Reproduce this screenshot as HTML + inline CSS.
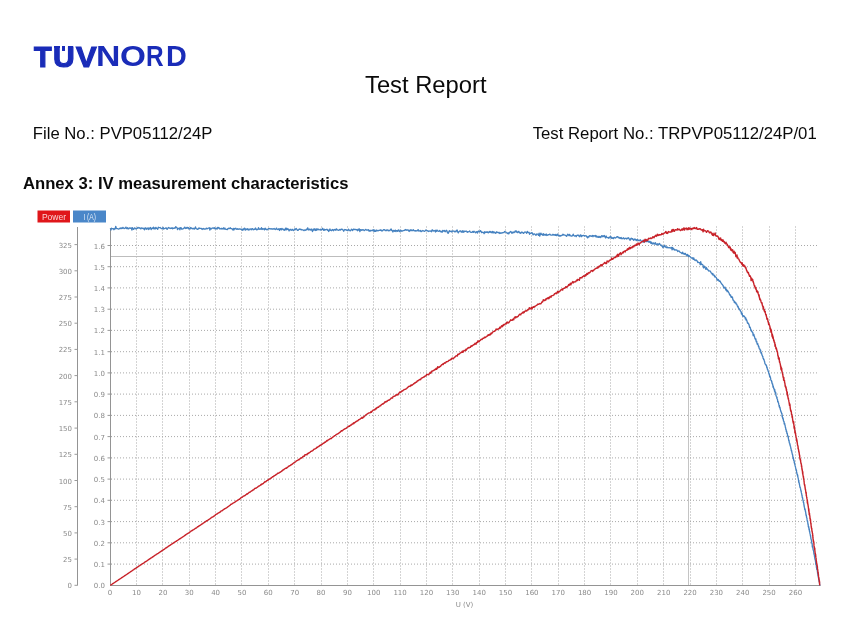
<!DOCTYPE html>
<html><head><meta charset="utf-8"><title>Test Report</title>
<style>
html,body{margin:0;padding:0;background:#fff;}
body{width:861px;height:624px;overflow:hidden;position:relative;}
svg{position:absolute;left:0;top:0;display:block;}
.t{font-family:"Liberation Sans",Arial,sans-serif;fill:#0a0a0a;}
.g{stroke:#a8a8a8;stroke-width:1;stroke-dasharray:1 2;}
.ax{stroke:#949494;stroke-width:1;}
.tk{stroke:#9a9a9a;stroke-width:1;}
.lb{font-family:"DejaVu Sans",Verdana,sans-serif;font-size:7px;fill:#8a8a8a;}
.lg{font-family:"Liberation Sans",Arial,sans-serif;font-size:8.5px;fill:#fff;fill-opacity:0.82;}
.logo{position:absolute;left:0;top:0;width:200px;height:80px;font-family:"Liberation Sans",Arial,sans-serif;font-weight:bold;color:#1a2cb8;}
.logo span{position:absolute;display:block;transform-origin:0 0;white-space:nowrap;}
.logo i{position:absolute;display:block;background:#1a2cb8;}
</style></head>
<body>
<svg width="861" height="624" viewBox="0 0 861 624">
<text x="365" y="93.2" class="t" font-size="24" textLength="121.5" lengthAdjust="spacingAndGlyphs">Test Report</text>
<text x="32.8" y="138.8" class="t" font-size="16" textLength="179.5" lengthAdjust="spacingAndGlyphs">File No.: PVP05112/24P</text>
<text x="532.7" y="138.9" class="t" font-size="16" textLength="284" lengthAdjust="spacingAndGlyphs">Test Report No.: TRPVP05112/24P/01</text>
<text x="23" y="188.7" class="t" font-size="16.2" font-weight="bold" textLength="325.5" lengthAdjust="spacingAndGlyphs">Annex 3: IV measurement characteristics</text>
<line x1="111" y1="564.1" x2="818.5" y2="564.1" class="g"/>
<line x1="107.5" y1="564.1" x2="111.5" y2="564.1" class="tk"/>
<line x1="111" y1="542.8" x2="818.5" y2="542.8" class="g"/>
<line x1="107.5" y1="542.8" x2="111.5" y2="542.8" class="tk"/>
<line x1="111" y1="521.6" x2="818.5" y2="521.6" class="g"/>
<line x1="107.5" y1="521.6" x2="111.5" y2="521.6" class="tk"/>
<line x1="111" y1="500.3" x2="818.5" y2="500.3" class="g"/>
<line x1="107.5" y1="500.3" x2="111.5" y2="500.3" class="tk"/>
<line x1="111" y1="479.1" x2="818.5" y2="479.1" class="g"/>
<line x1="107.5" y1="479.1" x2="111.5" y2="479.1" class="tk"/>
<line x1="111" y1="457.9" x2="818.5" y2="457.9" class="g"/>
<line x1="107.5" y1="457.9" x2="111.5" y2="457.9" class="tk"/>
<line x1="111" y1="436.6" x2="818.5" y2="436.6" class="g"/>
<line x1="107.5" y1="436.6" x2="111.5" y2="436.6" class="tk"/>
<line x1="111" y1="415.4" x2="818.5" y2="415.4" class="g"/>
<line x1="107.5" y1="415.4" x2="111.5" y2="415.4" class="tk"/>
<line x1="111" y1="394.1" x2="818.5" y2="394.1" class="g"/>
<line x1="107.5" y1="394.1" x2="111.5" y2="394.1" class="tk"/>
<line x1="111" y1="372.9" x2="818.5" y2="372.9" class="g"/>
<line x1="107.5" y1="372.9" x2="111.5" y2="372.9" class="tk"/>
<line x1="111" y1="351.7" x2="818.5" y2="351.7" class="g"/>
<line x1="107.5" y1="351.7" x2="111.5" y2="351.7" class="tk"/>
<line x1="111" y1="330.4" x2="818.5" y2="330.4" class="g"/>
<line x1="107.5" y1="330.4" x2="111.5" y2="330.4" class="tk"/>
<line x1="111" y1="309.2" x2="818.5" y2="309.2" class="g"/>
<line x1="107.5" y1="309.2" x2="111.5" y2="309.2" class="tk"/>
<line x1="111" y1="287.9" x2="818.5" y2="287.9" class="g"/>
<line x1="107.5" y1="287.9" x2="111.5" y2="287.9" class="tk"/>
<line x1="111" y1="266.7" x2="818.5" y2="266.7" class="g"/>
<line x1="107.5" y1="266.7" x2="111.5" y2="266.7" class="tk"/>
<line x1="111" y1="245.5" x2="818.5" y2="245.5" class="g"/>
<line x1="107.5" y1="245.5" x2="111.5" y2="245.5" class="tk"/>
<line x1="136.5" y1="226.5" x2="136.5" y2="585" class="g"/>
<line x1="162.5" y1="226.5" x2="162.5" y2="585" class="g"/>
<line x1="189.5" y1="226.5" x2="189.5" y2="585" class="g"/>
<line x1="215.5" y1="226.5" x2="215.5" y2="585" class="g"/>
<line x1="241.5" y1="226.5" x2="241.5" y2="585" class="g"/>
<line x1="268.5" y1="226.5" x2="268.5" y2="585" class="g"/>
<line x1="294.5" y1="226.5" x2="294.5" y2="585" class="g"/>
<line x1="321.5" y1="226.5" x2="321.5" y2="585" class="g"/>
<line x1="347.5" y1="226.5" x2="347.5" y2="585" class="g"/>
<line x1="373.5" y1="226.5" x2="373.5" y2="585" class="g"/>
<line x1="400.5" y1="226.5" x2="400.5" y2="585" class="g"/>
<line x1="426.5" y1="226.5" x2="426.5" y2="585" class="g"/>
<line x1="452.5" y1="226.5" x2="452.5" y2="585" class="g"/>
<line x1="479.5" y1="226.5" x2="479.5" y2="585" class="g"/>
<line x1="505.5" y1="226.5" x2="505.5" y2="585" class="g"/>
<line x1="531.5" y1="226.5" x2="531.5" y2="585" class="g"/>
<line x1="558.5" y1="226.5" x2="558.5" y2="585" class="g"/>
<line x1="584.5" y1="226.5" x2="584.5" y2="585" class="g"/>
<line x1="610.5" y1="226.5" x2="610.5" y2="585" class="g"/>
<line x1="637.5" y1="226.5" x2="637.5" y2="585" class="g"/>
<line x1="663.5" y1="226.5" x2="663.5" y2="585" class="g"/>
<line x1="690.5" y1="226.5" x2="690.5" y2="585" class="g"/>
<line x1="716.5" y1="226.5" x2="716.5" y2="585" class="g"/>
<line x1="742.5" y1="226.5" x2="742.5" y2="585" class="g"/>
<line x1="769.5" y1="226.5" x2="769.5" y2="585" class="g"/>
<line x1="795.5" y1="226.5" x2="795.5" y2="585" class="g"/>
<line x1="110.5" y1="256.5" x2="689" y2="256.5" stroke="#bdbdbd" stroke-width="1"/>
<line x1="688.5" y1="256.5" x2="688.5" y2="585" stroke="#c4c4c4" stroke-width="1"/>
<line x1="77.5" y1="227" x2="77.5" y2="585.5" class="ax"/>
<line x1="110.5" y1="228" x2="110.5" y2="585.5" class="ax"/>
<line x1="110" y1="585.5" x2="820.5" y2="585.5" class="ax"/>
<line x1="74.5" y1="585.3" x2="77.5" y2="585.3" class="tk"/>
<text x="72" y="588.3" class="lb" text-anchor="end">0</text>
<line x1="74.5" y1="559.1" x2="77.5" y2="559.1" class="tk"/>
<text x="72" y="562.1" class="lb" text-anchor="end">25</text>
<line x1="74.5" y1="532.9" x2="77.5" y2="532.9" class="tk"/>
<text x="72" y="535.9" class="lb" text-anchor="end">50</text>
<line x1="74.5" y1="506.7" x2="77.5" y2="506.7" class="tk"/>
<text x="72" y="509.7" class="lb" text-anchor="end">75</text>
<line x1="74.5" y1="480.5" x2="77.5" y2="480.5" class="tk"/>
<text x="72" y="483.5" class="lb" text-anchor="end">100</text>
<line x1="74.5" y1="454.3" x2="77.5" y2="454.3" class="tk"/>
<text x="72" y="457.3" class="lb" text-anchor="end">125</text>
<line x1="74.5" y1="428.1" x2="77.5" y2="428.1" class="tk"/>
<text x="72" y="431.1" class="lb" text-anchor="end">150</text>
<line x1="74.5" y1="401.8" x2="77.5" y2="401.8" class="tk"/>
<text x="72" y="404.8" class="lb" text-anchor="end">175</text>
<line x1="74.5" y1="375.6" x2="77.5" y2="375.6" class="tk"/>
<text x="72" y="378.6" class="lb" text-anchor="end">200</text>
<line x1="74.5" y1="349.4" x2="77.5" y2="349.4" class="tk"/>
<text x="72" y="352.4" class="lb" text-anchor="end">225</text>
<line x1="74.5" y1="323.2" x2="77.5" y2="323.2" class="tk"/>
<text x="72" y="326.2" class="lb" text-anchor="end">250</text>
<line x1="74.5" y1="297" x2="77.5" y2="297" class="tk"/>
<text x="72" y="300" class="lb" text-anchor="end">275</text>
<line x1="74.5" y1="270.8" x2="77.5" y2="270.8" class="tk"/>
<text x="72" y="273.8" class="lb" text-anchor="end">300</text>
<line x1="74.5" y1="244.6" x2="77.5" y2="244.6" class="tk"/>
<text x="72" y="247.6" class="lb" text-anchor="end">325</text>
<text x="105" y="588.3" class="lb" text-anchor="end">0.0</text>
<text x="105" y="567.1" class="lb" text-anchor="end">0.1</text>
<text x="105" y="545.8" class="lb" text-anchor="end">0.2</text>
<text x="105" y="524.6" class="lb" text-anchor="end">0.3</text>
<text x="105" y="503.3" class="lb" text-anchor="end">0.4</text>
<text x="105" y="482.1" class="lb" text-anchor="end">0.5</text>
<text x="105" y="460.9" class="lb" text-anchor="end">0.6</text>
<text x="105" y="439.6" class="lb" text-anchor="end">0.7</text>
<text x="105" y="418.4" class="lb" text-anchor="end">0.8</text>
<text x="105" y="397.1" class="lb" text-anchor="end">0.9</text>
<text x="105" y="375.9" class="lb" text-anchor="end">1.0</text>
<text x="105" y="354.7" class="lb" text-anchor="end">1.1</text>
<text x="105" y="333.4" class="lb" text-anchor="end">1.2</text>
<text x="105" y="312.2" class="lb" text-anchor="end">1.3</text>
<text x="105" y="290.9" class="lb" text-anchor="end">1.4</text>
<text x="105" y="269.7" class="lb" text-anchor="end">1.5</text>
<text x="105" y="248.5" class="lb" text-anchor="end">1.6</text>
<text x="110.1" y="595.3" class="lb" text-anchor="middle">0</text>
<text x="136.5" y="595.3" class="lb" text-anchor="middle">10</text>
<text x="162.9" y="595.3" class="lb" text-anchor="middle">20</text>
<text x="189.2" y="595.3" class="lb" text-anchor="middle">30</text>
<text x="215.6" y="595.3" class="lb" text-anchor="middle">40</text>
<text x="241.9" y="595.3" class="lb" text-anchor="middle">50</text>
<text x="268.3" y="595.3" class="lb" text-anchor="middle">60</text>
<text x="294.7" y="595.3" class="lb" text-anchor="middle">70</text>
<text x="321" y="595.3" class="lb" text-anchor="middle">80</text>
<text x="347.4" y="595.3" class="lb" text-anchor="middle">90</text>
<text x="373.7" y="595.3" class="lb" text-anchor="middle">100</text>
<text x="400.1" y="595.3" class="lb" text-anchor="middle">110</text>
<text x="426.5" y="595.3" class="lb" text-anchor="middle">120</text>
<text x="452.8" y="595.3" class="lb" text-anchor="middle">130</text>
<text x="479.2" y="595.3" class="lb" text-anchor="middle">140</text>
<text x="505.5" y="595.3" class="lb" text-anchor="middle">150</text>
<text x="531.9" y="595.3" class="lb" text-anchor="middle">160</text>
<text x="558.3" y="595.3" class="lb" text-anchor="middle">170</text>
<text x="584.6" y="595.3" class="lb" text-anchor="middle">180</text>
<text x="611" y="595.3" class="lb" text-anchor="middle">190</text>
<text x="637.3" y="595.3" class="lb" text-anchor="middle">200</text>
<text x="663.7" y="595.3" class="lb" text-anchor="middle">210</text>
<text x="690.1" y="595.3" class="lb" text-anchor="middle">220</text>
<text x="716.4" y="595.3" class="lb" text-anchor="middle">230</text>
<text x="742.8" y="595.3" class="lb" text-anchor="middle">240</text>
<text x="769.1" y="595.3" class="lb" text-anchor="middle">250</text>
<text x="795.5" y="595.3" class="lb" text-anchor="middle">260</text>
<text x="464.5" y="606.5" class="lb" text-anchor="middle">U (V)</text>
<polyline points="110.3,228.4 110.9,230.1 111.5,228.2 112.1,228.8 112.7,228.7 113.3,228.6 113.9,229.7 114.5,228.6 115.1,229.0 115.7,226.3 116.3,228.3 116.9,228.6 117.5,228.6 118.1,228.8 118.7,229.1 119.3,228.7 119.9,228.1 120.5,228.6 121.1,227.8 121.7,228.5 122.3,228.4 122.9,227.4 123.5,228.0 124.1,228.7 124.7,228.5 125.3,228.0 125.9,227.1 126.5,228.5 127.1,228.5 127.7,227.7 128.3,228.9 128.9,228.6 129.5,227.8 130.1,228.0 130.7,228.3 131.3,227.9 131.9,230.2 132.5,227.7 133.1,229.0 133.7,229.4 134.3,228.2 134.9,227.9 135.5,228.6 136.1,229.0 136.7,228.3 137.3,228.4 137.9,227.4 138.5,227.8 139.1,228.2 139.7,227.6 140.3,228.4 140.9,228.9 141.5,227.9 142.1,227.9 142.7,228.4 143.3,228.8 143.9,228.2 144.5,229.9 145.1,227.9 145.7,228.0 146.3,229.3 146.9,228.2 147.5,228.9 148.1,227.8 148.7,229.6 149.3,228.9 149.9,227.8 150.5,227.5 151.1,229.6 151.7,228.6 152.3,228.0 152.9,228.6 153.5,227.2 154.1,229.0 154.7,228.0 155.3,228.9 155.9,227.3 156.5,228.3 157.1,228.5 157.7,229.3 158.3,227.2 158.9,227.7 159.5,227.7 160.1,227.5 160.7,228.0 161.3,228.6 161.9,228.7 162.5,228.7 163.1,227.3 163.7,229.1 164.3,228.6 164.9,228.4 165.5,228.1 166.1,227.8 166.7,229.0 167.3,229.3 167.9,228.2 168.5,227.5 169.1,227.8 169.7,228.1 170.3,228.5 170.9,228.1 171.5,228.4 172.1,227.8 172.7,228.8 173.3,228.2 173.9,228.4 174.5,227.9 175.1,228.2 175.7,226.7 176.3,227.4 176.9,227.4 177.5,229.6 178.1,228.5 178.7,228.7 179.3,228.0 179.9,229.8 180.5,227.6 181.1,227.7 181.7,229.2 182.3,229.0 182.9,228.9 183.5,228.4 184.1,228.0 184.7,227.1 185.3,228.5 185.9,227.9 186.5,228.3 187.1,227.3 187.7,228.0 188.3,227.6 188.9,229.1 189.5,228.6 190.1,229.0 190.7,227.5 191.3,228.0 191.9,228.7 192.5,228.8 193.1,228.2 193.7,228.9 194.3,229.1 194.9,228.2 195.5,226.9 196.1,228.7 196.7,228.9 197.3,229.3 197.9,229.4 198.5,228.2 199.1,228.0 199.7,228.5 200.3,228.3 200.9,228.5 201.5,228.5 202.1,229.5 202.7,228.9 203.3,228.5 203.9,229.1 204.5,228.9 205.1,229.1 205.7,228.8 206.3,228.1 206.9,228.9 207.5,228.7 208.1,228.1 208.7,228.2 209.3,227.6 209.9,230.0 210.5,228.1 211.1,229.0 211.7,228.6 212.3,228.1 212.9,228.0 213.5,228.0 214.1,228.6 214.7,227.7 215.3,228.9 215.9,228.8 216.5,228.2 217.1,229.1 217.7,227.4 218.3,228.1 218.9,227.4 219.5,228.8 220.1,229.0 220.7,228.7 221.3,228.3 221.9,229.1 222.5,228.5 223.1,228.8 223.7,227.8 224.3,229.2 224.9,228.1 225.5,229.2 226.1,229.4 226.7,229.3 227.3,229.6 227.9,228.7 228.5,228.2 229.1,228.7 229.7,228.4 230.3,227.8 230.9,228.7 231.5,228.7 232.1,229.0 232.7,229.9 233.3,228.4 233.9,230.0 234.5,228.5 235.1,228.9 235.7,228.2 236.3,229.0 236.9,229.4 237.5,228.7 238.1,229.3 238.7,229.1 239.3,228.9 239.9,229.0 240.5,229.1 241.1,229.5 241.7,229.1 242.3,230.3 242.9,229.1 243.5,229.7 244.1,228.3 244.7,228.2 245.3,230.2 245.9,228.9 246.5,229.1 247.1,229.7 247.7,228.7 248.3,229.3 248.9,230.2 249.5,229.2 250.1,229.1 250.7,229.0 251.3,229.8 251.9,228.7 252.5,228.6 253.1,229.8 253.7,229.5 254.3,229.1 254.9,229.5 255.5,228.0 256.1,229.0 256.7,229.8 257.3,229.6 257.9,229.2 258.5,227.7 259.1,229.3 259.7,229.1 260.3,228.8 260.9,229.2 261.5,227.7 262.1,229.5 262.7,228.7 263.3,229.1 263.9,228.8 264.5,229.9 265.1,228.1 265.7,229.3 266.3,229.2 266.9,229.8 267.5,229.7 268.1,228.9 268.7,228.6 269.3,228.8 269.9,228.5 270.5,228.8 271.1,229.2 271.7,228.7 272.3,228.9 272.9,229.3 273.5,228.8 274.1,228.5 274.7,229.1 275.3,229.5 275.9,228.9 276.5,228.1 277.1,229.5 277.7,229.4 278.3,229.4 278.9,228.6 279.5,230.5 280.1,229.1 280.7,228.6 281.3,229.9 281.9,228.4 282.5,229.0 283.1,229.7 283.7,229.3 284.3,230.4 284.9,229.8 285.5,228.2 286.1,230.0 286.7,228.2 287.3,229.5 287.9,228.8 288.5,229.4 289.1,230.9 289.7,229.8 290.3,229.3 290.9,230.2 291.5,230.3 292.1,229.2 292.7,229.9 293.3,230.6 293.9,229.9 294.5,229.0 295.1,229.8 295.7,228.9 296.3,228.5 296.9,229.5 297.5,230.3 298.1,230.4 298.7,229.6 299.3,229.0 299.9,229.4 300.5,229.2 301.1,229.9 301.7,229.4 302.3,229.9 302.9,229.8 303.5,230.4 304.1,230.6 304.7,229.9 305.3,230.3 305.9,230.2 306.5,229.2 307.1,229.7 307.7,227.8 308.3,229.1 308.9,230.1 309.5,229.2 310.1,229.4 310.7,230.1 311.3,229.0 311.9,230.2 312.5,231.6 313.1,229.2 313.7,230.1 314.3,228.8 314.9,230.1 315.5,230.5 316.1,228.7 316.7,230.4 317.3,229.6 317.9,228.8 318.5,229.7 319.1,229.8 319.7,229.7 320.3,229.2 320.9,230.3 321.5,229.4 322.1,229.4 322.7,228.3 323.3,230.0 323.9,230.4 324.5,229.3 325.1,230.1 325.7,229.6 326.3,229.7 326.9,229.1 327.5,230.3 328.1,229.9 328.7,231.5 329.3,230.4 329.9,228.9 330.5,230.3 331.1,230.3 331.7,230.7 332.3,229.5 332.9,229.8 333.5,230.7 334.1,229.5 334.7,229.8 335.3,229.4 335.9,230.3 336.5,228.8 337.1,229.7 337.7,230.0 338.3,230.3 338.9,230.1 339.5,229.4 340.1,230.2 340.7,229.3 341.3,229.6 341.9,229.1 342.5,229.5 343.1,230.1 343.7,231.2 344.3,229.8 344.9,229.5 345.5,229.9 346.1,229.7 346.7,230.3 347.3,230.3 347.9,230.7 348.5,229.2 349.1,230.0 349.7,230.4 350.3,230.9 350.9,230.2 351.5,229.2 352.1,229.8 352.7,230.6 353.3,229.2 353.9,229.2 354.5,229.5 355.1,229.6 355.7,229.4 356.3,229.8 356.9,229.7 357.5,230.7 358.1,229.2 358.7,230.0 359.3,228.9 359.9,231.5 360.5,229.7 361.1,229.6 361.7,230.4 362.3,229.9 362.9,229.7 363.5,229.9 364.1,230.6 364.7,230.3 365.3,229.6 365.9,229.4 366.5,230.2 367.1,230.2 367.7,230.1 368.3,229.6 368.9,231.0 369.5,231.1 370.1,230.2 370.7,231.0 371.3,230.7 371.9,230.3 372.5,230.0 373.1,231.0 373.7,229.8 374.3,231.5 374.9,230.0 375.5,231.4 376.1,231.2 376.7,230.0 377.3,230.6 377.9,230.9 378.5,230.7 379.1,230.1 379.7,230.4 380.3,230.4 380.9,229.7 381.5,230.9 382.1,230.7 382.7,230.8 383.3,229.7 383.9,229.8 384.5,229.6 385.1,230.5 385.7,230.6 386.3,229.9 386.9,230.7 387.5,230.0 388.1,230.0 388.7,230.9 389.3,230.6 389.9,230.6 390.5,229.4 391.1,228.9 391.7,230.6 392.3,230.5 392.9,232.0 393.5,230.4 394.1,230.6 394.7,231.2 395.3,230.1 395.9,231.6 396.5,230.7 397.1,230.5 397.7,231.4 398.3,230.1 398.9,229.9 399.5,231.5 400.1,231.5 400.7,230.2 401.3,230.6 401.9,231.4 402.5,230.8 403.1,230.7 403.7,230.7 404.3,230.1 404.9,230.4 405.5,229.5 406.1,229.8 406.7,230.3 407.3,230.0 407.9,229.9 408.5,230.3 409.1,231.5 409.7,230.2 410.3,230.7 410.9,229.7 411.5,230.7 412.1,230.4 412.7,230.5 413.3,229.7 413.9,230.7 414.5,230.9 415.1,230.6 415.7,231.1 416.3,230.7 416.9,230.8 417.5,230.6 418.1,229.6 418.7,231.1 419.3,230.8 419.9,231.0 420.5,230.4 421.1,231.6 421.7,231.3 422.3,230.9 422.9,230.5 423.5,230.9 424.1,231.2 424.7,231.4 425.3,230.6 425.9,230.0 426.5,230.7 427.1,230.8 427.7,230.6 428.3,231.5 428.9,231.1 429.5,231.1 430.1,230.8 430.7,231.0 431.3,231.7 431.9,230.2 432.5,229.9 433.1,231.1 433.7,230.7 434.3,230.8 434.9,230.5 435.5,232.0 436.1,230.0 436.7,231.3 437.3,230.2 437.9,231.0 438.5,231.3 439.1,231.2 439.7,230.5 440.3,231.7 440.9,231.4 441.5,231.5 442.1,232.3 442.7,230.4 443.3,230.8 443.9,231.2 444.5,230.5 445.1,231.8 445.7,231.3 446.3,230.2 446.9,230.7 447.5,232.7 448.1,233.4 448.7,232.0 449.3,230.7 449.9,231.7 450.5,231.5 451.1,231.0 451.7,232.0 452.3,231.3 452.9,230.9 453.5,231.1 454.1,231.2 454.7,231.8 455.3,231.2 455.9,231.8 456.5,230.7 457.1,229.9 457.7,232.0 458.3,232.9 458.9,231.8 459.5,231.3 460.1,230.9 460.7,230.9 461.3,232.1 461.9,232.1 462.5,230.8 463.1,232.4 463.7,231.0 464.3,231.8 464.9,231.2 465.5,231.3 466.1,231.2 466.7,231.2 467.3,232.4 467.9,231.6 468.5,231.8 469.1,231.6 469.7,231.0 470.3,232.0 470.9,232.3 471.5,232.3 472.1,232.1 472.7,231.4 473.3,232.4 473.9,231.2 474.5,231.8 475.1,232.1 475.7,232.8 476.3,231.8 476.9,231.6 477.5,233.1 478.1,231.3 478.7,231.0 479.3,231.8 479.9,231.8 480.5,230.6 481.1,231.3 481.7,232.7 482.3,232.2 482.9,232.3 483.5,232.3 484.1,233.7 484.7,231.7 485.3,232.6 485.9,232.1 486.5,232.3 487.1,231.7 487.7,232.5 488.3,232.8 488.9,232.0 489.5,231.4 490.1,232.5 490.7,231.5 491.3,232.2 491.9,232.7 492.5,231.4 493.1,232.9 493.7,231.8 494.3,232.8 494.9,232.2 495.5,233.3 496.1,233.0 496.7,231.8 497.3,232.4 497.9,232.5 498.5,232.8 499.1,232.3 499.7,233.5 500.3,233.3 500.9,232.7 501.5,233.1 502.1,233.0 502.7,232.6 503.3,232.7 503.9,232.7 504.5,231.5 505.1,231.9 505.7,231.8 506.3,232.6 506.9,232.9 507.5,233.5 508.1,232.8 508.7,233.9 509.3,232.9 509.9,232.1 510.5,231.5 511.1,231.9 511.7,233.1 512.3,232.2 512.9,233.0 513.5,232.0 514.1,232.6 514.7,232.0 515.3,230.9 515.9,231.9 516.5,231.0 517.1,232.4 517.7,232.7 518.3,231.7 518.9,231.4 519.5,232.9 520.1,232.5 520.7,233.4 521.3,232.6 521.9,231.9 522.5,232.6 523.1,232.9 523.7,233.4 524.3,232.3 524.9,232.0 525.5,232.1 526.1,232.3 526.7,233.3 527.3,231.4 527.9,232.5 528.5,232.7 529.0,232.3 529.6,234.3 530.2,233.1 530.8,233.3 531.4,233.1 532.0,232.6 532.5,233.3 533.1,234.9 533.7,234.1 534.3,233.9 534.9,234.1 535.5,235.0 536.1,235.3 536.7,233.9 537.3,234.1 537.9,234.3 538.5,235.4 539.1,233.2 539.7,236.2 540.3,234.6 540.9,233.1 541.5,234.5 542.1,234.3 542.7,235.2 543.3,233.6 543.9,235.3 544.5,234.4 545.1,234.4 545.7,235.2 546.3,234.0 546.9,235.5 547.5,235.1 548.1,234.7 548.7,234.9 549.3,234.4 549.9,234.1 550.5,234.9 551.1,235.1 551.7,235.1 552.3,235.0 552.9,234.3 553.5,235.0 554.1,234.6 554.6,234.9 555.2,235.4 555.8,234.4 556.4,235.6 557.0,235.0 557.6,234.1 558.2,235.7 558.8,235.1 559.4,236.1 560.0,235.4 560.6,236.1 561.2,235.4 561.8,235.5 562.4,235.1 563.0,234.2 563.6,235.0 564.2,234.8 564.8,235.2 565.4,235.4 566.0,235.8 566.6,236.4 567.2,235.2 567.8,234.2 568.4,235.0 569.0,235.7 569.6,234.3 570.2,235.6 570.8,235.8 571.4,236.1 572.0,236.0 572.6,235.6 573.2,234.2 573.8,235.6 574.4,236.1 575.0,235.9 575.6,235.6 576.2,236.6 576.8,235.5 577.4,235.1 578.0,235.4 578.6,235.2 579.2,236.4 579.8,236.7 580.4,234.8 581.0,235.0 581.6,236.7 582.2,235.6 582.8,235.7 583.4,235.4 584.0,235.6 584.6,236.1 585.2,235.7 585.8,235.8 586.4,235.9 587.0,237.1 587.6,237.9 588.2,236.5 588.8,237.1 589.4,235.9 590.0,235.6 590.6,236.0 591.2,236.4 591.8,236.1 592.4,235.5 593.0,236.7 593.6,235.7 594.2,235.9 594.8,236.2 595.4,235.5 596.0,236.9 596.6,235.9 597.2,237.1 597.8,237.0 598.4,237.3 599.0,236.3 599.6,237.3 600.2,236.7 600.8,237.5 601.4,236.1 602.0,235.6 602.6,236.7 603.2,235.8 603.8,236.5 604.4,235.5 605.0,236.9 605.6,238.0 606.2,236.0 606.8,237.1 607.4,237.7 608.0,237.5 608.6,238.2 609.2,237.3 609.8,237.9 610.4,236.3 611.0,236.8 611.6,238.3 612.2,238.3 612.8,237.7 613.4,238.6 614.0,237.5 614.6,237.5 615.2,238.0 615.8,237.9 616.4,237.3 617.0,236.7 617.6,236.7 618.2,237.7 618.8,237.2 619.4,238.3 620.0,237.6 620.6,238.5 621.2,237.5 621.8,238.8 622.4,238.7 623.0,238.1 623.6,237.8 624.2,239.1 624.8,238.6 625.4,238.3 626.0,238.2 626.5,239.0 627.1,238.4 627.7,238.7 628.3,237.7 628.9,238.3 629.5,239.6 630.1,240.2 630.7,238.8 631.3,238.2 631.9,239.0 632.5,238.6 633.1,239.6 633.7,240.2 634.3,239.0 634.9,239.5 635.5,239.2 636.1,240.6 636.6,239.7 637.2,240.3 637.8,239.5 638.4,240.5 639.0,240.6 639.6,240.7 640.2,239.7 640.8,240.5 641.4,241.2 642.0,241.4 642.6,241.6 643.1,240.1 643.7,242.3 644.3,241.8 644.9,241.0 645.5,240.7 646.1,241.7 646.7,241.2 647.3,241.4 647.8,241.3 648.4,242.1 649.0,241.2 649.6,242.2 650.2,241.5 650.8,243.3 651.4,242.1 651.9,243.7 652.5,244.0 653.1,242.8 653.7,243.8 654.3,243.2 654.9,244.3 655.4,242.7 656.0,243.9 656.6,244.8 657.2,244.1 657.8,243.8 658.3,245.0 658.9,244.3 659.5,243.5 660.1,244.4 660.7,245.1 661.2,245.7 661.8,245.1 662.4,246.6 663.0,247.7 663.5,246.4 664.1,246.8 664.7,245.2 665.3,246.4 665.8,247.3 666.4,247.6 667.0,246.7 667.5,247.7 668.1,247.8 668.7,247.6 669.3,247.7 669.8,247.9 670.4,248.1 671.0,247.5 671.5,247.5 672.1,249.8 672.6,247.3 673.2,249.1 673.8,248.6 674.3,250.1 674.9,249.6 675.4,249.9 676.0,250.2 676.6,249.9 677.1,250.3 677.7,251.6 678.2,251.2 678.8,250.9 679.3,251.2 679.9,252.1 680.4,252.3 681.0,252.5 681.5,253.3 682.1,253.7 682.6,252.1 683.2,253.6 683.7,253.6 684.2,254.4 684.8,253.3 685.3,253.3 685.9,254.8 686.4,254.6 686.9,255.7 687.5,254.4 688.0,255.2 688.5,256.6 689.0,255.6 689.6,256.4 690.1,256.7 690.6,257.0 691.1,258.0 691.7,258.2 692.2,257.7 692.7,258.5 693.2,259.4 693.7,257.8 694.2,259.5 694.7,260.1 695.2,260.5 695.8,259.9 696.3,260.0 696.8,260.8 697.3,260.8 697.8,262.6 698.3,262.2 698.8,262.6 699.2,262.7 699.7,262.7 700.2,264.7 700.7,261.7 701.2,264.6 701.7,264.2 702.1,264.3 702.6,264.7 703.1,265.4 703.5,267.8 704.0,267.0 704.5,266.2 704.9,267.7 705.4,268.1 705.8,269.4 706.3,267.5 706.8,268.3 707.2,269.6 707.7,269.5 708.1,269.9 708.6,271.0 709.0,270.8 709.4,270.9 709.9,271.1 710.3,271.1 710.8,272.3 711.2,273.0 711.6,272.9 712.1,273.9 712.5,274.7 712.9,273.6 713.3,275.0 713.8,275.1 714.2,275.2 714.6,276.8 715.0,276.1 715.4,276.7 715.9,277.4 716.3,277.6 716.7,278.7 717.1,280.1 717.5,279.3 717.9,280.2 718.3,279.5 718.7,280.3 719.1,281.3 719.5,281.3 719.9,281.0 720.3,281.5 720.7,282.5 721.1,282.9 721.5,283.8 721.8,284.2 722.2,284.2 722.6,285.1 723.0,285.3 723.4,286.7 723.7,287.5 724.1,288.0 724.5,287.6 724.9,287.0 725.2,287.5 725.6,289.4 726.0,290.2 726.3,289.2 726.7,289.9 727.1,291.6 727.4,290.5 727.8,291.5 728.1,291.3 728.5,292.4 728.8,292.5 729.2,293.4 729.5,294.7 729.9,294.7 730.2,295.5 730.6,295.0 730.9,296.7 731.3,297.5 731.6,296.6 731.9,296.8 732.3,297.1 732.6,297.8 732.9,300.0 733.3,300.0 733.6,300.4 733.9,300.5 734.3,302.4 734.6,301.5 734.9,301.9 735.2,303.1 735.5,303.0 735.9,302.8 736.2,304.0 736.5,303.9 736.8,304.4 737.1,305.3 737.4,305.9 737.8,306.9 738.1,306.3 738.4,307.9 738.7,308.6 739.0,308.2 739.3,309.7 739.6,309.4 739.9,309.6 740.2,310.7 740.5,311.2 740.8,311.2 741.1,311.8 741.4,313.8 741.7,314.2 742.0,313.0 742.3,314.2 742.6,316.2 743.0,316.2 743.5,315.7 743.9,316.7 744.4,316.2 744.7,317.0 745.0,317.2 745.3,318.8 745.5,318.2 745.8,317.9 746.1,320.2 746.4,319.4 746.7,320.1 746.9,320.8 747.2,321.8 747.5,323.1 747.8,323.4 748.0,322.9 748.3,323.3 748.6,323.7 748.8,324.4 749.1,325.0 749.4,326.3 749.6,327.4 749.9,327.0 750.2,327.4 750.4,328.2 750.7,329.7 750.9,329.6 751.2,330.8 751.5,330.3 751.7,331.6 752.0,331.6 752.2,331.8 752.5,332.5 752.7,332.2 753.0,334.4 753.2,335.6 753.5,334.1 753.7,334.4 754.0,334.9 754.2,336.2 754.5,336.6 754.7,337.4 755.0,338.8 755.2,338.9 755.5,338.8 755.7,340.0 755.9,339.0 756.2,341.7 756.4,341.6 756.7,341.2 756.9,342.8 757.1,343.7 757.4,344.4 757.6,344.5 757.8,343.7 758.1,344.9 758.3,345.4 758.5,346.6 758.8,346.3 759.0,347.3 759.2,348.5 759.4,348.8 759.7,348.9 759.9,348.9 760.1,350.2 760.4,350.4 760.6,350.0 760.8,352.3 761.0,353.2 761.2,352.3 761.5,353.2 761.7,354.1 761.9,354.5 762.1,355.4 762.3,355.4 762.6,356.5 762.8,356.4 763.0,358.2 763.2,358.5 763.4,358.5 763.6,359.4 763.9,359.2 764.1,360.2 764.3,361.1 764.5,361.2 764.7,362.2 764.9,363.5 765.1,363.8 765.3,364.1 765.5,364.5 765.7,364.7 766.0,364.7 766.2,365.5 766.4,365.3 766.6,366.2 766.8,367.7 767.0,367.0 767.2,367.9 767.4,369.5 767.6,369.6 767.8,369.7 768.0,370.8 768.2,370.8 768.4,371.8 768.6,372.2 768.8,373.4 769.0,373.5 769.2,374.5 769.4,374.5 769.6,376.5 769.8,375.8 770.0,375.8 770.2,376.8 770.4,377.7 770.6,377.9 770.7,379.4 770.9,380.0 771.1,380.2 771.3,380.7 771.5,380.5 771.7,382.3 771.9,381.6 772.1,383.8 772.3,383.9 772.5,384.0 772.6,383.8 772.8,385.5 773.0,387.1 773.2,386.0 773.4,386.8 773.6,388.1 773.8,388.6 773.9,389.0 774.1,389.0 774.3,389.3 774.5,391.2 774.7,389.4 774.9,391.4 775.0,392.2 775.2,392.1 775.4,393.0 775.6,392.2 775.8,393.6 775.9,395.1 776.1,395.7 776.3,396.3 776.5,396.8 776.7,396.7 776.8,398.1 777.0,397.2 777.2,398.9 777.4,399.5 777.5,399.4 777.7,401.8 777.9,401.7 778.1,401.3 778.2,402.3 778.4,402.9 778.6,403.2 778.8,404.4 778.9,404.7 779.1,406.0 779.3,406.9 779.4,405.5 779.6,407.5 779.8,407.9 779.9,407.2 780.1,407.9 780.3,409.5 780.5,410.1 780.6,410.4 780.8,411.5 781.0,411.1 781.1,412.0 781.3,412.6 781.5,412.7 781.6,413.3 781.8,413.2 782.0,414.0 782.1,416.6 782.3,415.5 782.4,417.4 782.6,418.2 782.8,417.4 782.9,418.9 783.1,419.2 783.3,418.9 783.4,420.6 783.6,421.3 783.7,421.1 783.9,421.1 784.1,422.1 784.2,424.0 784.4,424.0 784.5,424.3 784.7,423.5 784.9,424.8 785.0,425.4 785.2,425.7 785.3,427.3 785.5,427.4 785.7,427.9 785.8,429.5 786.0,429.4 786.1,429.6 786.3,431.3 786.4,430.6 786.6,431.2 786.7,431.6 786.9,433.4 787.1,433.4 787.2,433.1 787.4,434.1 787.5,435.7 787.7,435.6 787.8,435.5 788.0,437.0 788.1,437.3 788.3,436.5 788.4,438.7 788.6,439.3 788.7,440.5 788.9,440.9 789.0,440.1 789.2,441.7 789.3,442.9 789.5,443.3 789.6,443.3 789.8,443.4 789.9,445.0 790.1,444.6 790.2,446.0 790.4,446.0 790.5,446.5 790.7,447.0 790.8,448.3 791.0,448.7 791.1,448.8 791.3,450.6 791.4,450.2 791.5,450.6 791.7,450.8 791.8,452.1 792.0,452.8 792.1,453.2 792.3,454.3 792.4,454.5 792.6,454.7 792.7,455.4 792.8,456.8 793.0,456.9 793.1,458.7 793.3,457.4 793.4,458.8 793.6,458.9 793.7,460.4 793.8,460.3 794.0,460.5 794.1,460.8 794.3,462.9 794.4,462.0 794.6,463.3 794.7,464.2 794.8,464.0 795.0,465.1 795.1,465.7 795.3,466.5 795.4,466.5 795.5,467.2 795.7,467.9 795.8,469.0 795.9,469.3 796.1,469.3 796.2,469.4 796.4,470.8 796.5,470.4 796.6,471.9 796.8,473.2 796.9,472.7 797.0,474.3 797.2,474.0 797.3,474.2 797.5,475.6 797.6,476.1 797.7,475.0 797.9,477.0 798.0,477.6 798.1,477.9 798.3,479.0 798.4,479.6 798.5,479.9 798.7,482.2 798.8,480.4 798.9,482.5 799.1,483.1 799.2,482.7 799.3,483.6 799.5,485.0 799.6,484.7 799.7,486.1 799.9,486.4 800.0,487.5 800.1,487.7 800.3,487.5 800.4,488.2 800.5,488.7 800.6,488.9 800.8,490.1 800.9,491.1 801.0,491.4 801.2,490.8 801.3,492.4 801.4,492.8 801.6,493.6 801.7,494.0 801.8,494.5 801.9,495.3 802.1,496.0 802.2,497.0 802.3,497.6 802.5,497.4 802.6,497.8 802.7,498.3 802.8,499.4 803.0,500.5 803.1,500.2 803.2,500.8 803.4,502.7 803.5,501.9 803.6,502.6 803.7,502.5 803.9,504.8 804.0,505.5 804.1,504.8 804.2,507.0 804.4,506.9 804.5,507.7 804.6,508.3 804.7,509.4 804.9,509.0 805.0,508.8 805.1,509.7 805.2,510.3 805.4,511.4 805.5,510.8 805.6,512.0 805.7,512.3 805.9,514.5 806.0,513.9 806.1,515.4 806.2,515.0 806.4,515.7 806.5,517.2 806.6,516.9 806.7,516.9 806.8,517.9 807.0,518.4 807.1,519.9 807.2,520.4 807.3,521.3 807.5,521.1 807.6,521.0 807.7,522.0 807.8,522.9 807.9,524.2 808.1,523.8 808.2,524.8 808.3,526.5 808.4,526.9 808.5,526.6 808.7,527.6 808.8,526.6 808.9,528.2 809.0,529.4 809.1,529.7 809.3,528.9 809.4,531.1 809.5,530.6 809.6,531.4 809.7,531.4 809.8,532.6 810.0,533.7 810.1,533.7 810.2,534.6 810.3,534.6 810.4,535.9 810.6,535.2 810.7,537.1 810.8,537.3 810.9,538.6 811.0,538.7 811.1,539.3 811.3,539.8 811.4,540.0 811.5,541.5 811.6,542.2 811.7,541.6 811.8,543.1 812.0,543.9 812.1,543.3 812.2,544.2 812.3,546.9 812.4,546.1 812.5,545.9 812.7,546.5 812.8,547.9 812.9,547.2 813.0,549.3 813.1,549.5 813.2,549.9 813.3,550.5 813.5,550.6 813.6,551.1 813.7,552.3 813.8,552.0 813.9,553.9 814.0,554.2 814.1,553.6 814.3,555.2 814.4,555.2 814.5,556.7 814.6,557.2 814.7,557.7 814.8,558.1 814.9,559.0 815.0,559.4 815.2,559.5 815.3,559.8 815.4,561.1 815.5,561.3 815.6,561.7 815.7,563.6 815.8,564.5 815.9,563.1 816.1,563.8 816.2,565.2 816.3,565.6 816.4,567.0 816.5,567.9 816.6,567.4 816.7,569.2 816.8,568.2 816.9,569.8 817.0,569.8 817.2,569.3 817.3,570.0 817.4,571.9 817.5,571.7 817.6,573.6 817.7,573.9 817.8,573.9 817.9,573.8 818.0,575.7 818.1,575.5 818.3,576.4 818.4,577.9 818.5,577.7 818.6,577.3 818.7,578.9 818.8,579.1 818.9,579.5 819.0,581.1 819.1,580.4 819.2,580.8 819.3,581.4 819.5,582.1 819.6,583.9 819.7,584.5 819.8,585.2 819.8,585.0" fill="none" stroke="#4682c0" stroke-width="1.3" stroke-linejoin="round"/>
<polyline points="110.3,585.3 110.8,585.0 111.3,584.6 111.8,584.3 112.3,584.0 112.8,583.6 113.3,583.3 113.8,583.0 114.3,582.6 114.8,582.3 115.3,582.0 115.8,581.6 116.3,581.3 116.8,581.0 117.3,580.6 117.8,580.3 118.3,580.0 118.8,579.6 119.3,579.3 119.8,579.0 120.3,578.6 120.8,578.3 121.3,578.0 121.8,577.6 122.3,577.3 122.8,577.0 123.3,576.6 123.8,576.3 124.3,576.0 124.8,575.6 125.3,575.3 125.8,575.0 126.3,574.6 126.8,574.3 127.3,574.0 127.8,573.6 128.3,573.3 128.8,573.0 129.2,572.6 129.7,572.3 130.2,572.0 130.7,571.6 131.2,571.3 131.7,571.0 132.2,570.6 132.7,570.3 133.2,569.9 133.7,569.6 134.2,569.2 134.7,568.9 135.2,568.6 135.7,568.3 136.2,567.9 136.7,567.6 137.2,567.3 137.7,566.9 138.2,566.6 138.7,566.2 139.2,565.9 139.7,565.6 140.2,565.2 140.7,564.9 141.2,564.6 141.7,564.3 142.2,563.9 142.7,563.7 143.2,563.3 143.7,563.0 144.2,562.6 144.7,562.2 145.2,561.9 145.7,561.6 146.2,561.3 146.7,561.0 147.2,560.6 147.7,560.3 148.2,559.9 148.7,559.5 149.2,559.3 149.7,558.9 150.2,558.7 150.7,558.2 151.2,557.9 151.7,557.6 152.2,557.2 152.7,557.0 153.2,556.6 153.7,556.2 154.2,555.9 154.7,555.5 155.2,555.2 155.7,554.9 156.2,554.6 156.7,554.1 157.2,553.9 157.7,553.6 158.2,553.3 158.7,552.9 159.2,552.7 159.7,552.4 160.2,551.8 160.7,551.5 161.2,551.3 161.7,550.9 162.2,550.5 162.7,550.3 163.2,549.8 163.6,549.7 164.1,549.3 164.6,549.1 165.1,548.5 165.6,548.2 166.1,547.8 166.6,547.7 167.1,547.2 167.6,546.9 168.1,546.6 168.6,546.1 169.1,545.8 169.6,545.5 170.1,545.3 170.6,544.9 171.1,544.5 171.6,544.2 172.1,543.9 172.6,543.5 173.1,543.3 173.6,542.9 174.1,542.5 174.6,542.3 175.1,541.9 175.6,541.5 176.1,541.4 176.6,540.9 177.1,540.7 177.6,540.3 178.1,540.0 178.6,539.7 179.1,539.3 179.6,538.9 180.1,538.6 180.6,538.5 181.1,537.8 181.6,537.6 182.1,537.3 182.6,537.0 183.1,536.6 183.6,536.3 184.1,536.0 184.6,535.6 185.1,535.2 185.6,535.0 186.1,534.5 186.6,534.2 187.1,533.9 187.6,533.5 188.1,533.3 188.6,533.0 189.1,532.6 189.6,532.2 190.1,531.9 190.6,531.6 191.1,531.0 191.6,530.9 192.1,530.5 192.6,530.3 193.1,529.8 193.6,529.6 194.1,529.3 194.6,529.0 195.1,528.5 195.6,528.2 196.1,528.1 196.6,527.7 197.1,527.2 197.6,526.8 198.1,526.7 198.6,526.3 199.1,525.8 199.6,525.7 200.1,525.3 200.6,525.0 201.1,524.7 201.6,524.3 202.1,523.9 202.6,523.8 203.1,523.3 203.6,522.8 204.1,522.6 204.6,522.2 205.1,522.0 205.6,521.4 206.1,521.4 206.6,520.7 207.1,520.7 207.6,520.4 208.1,520.0 208.6,519.6 209.1,519.3 209.6,519.0 210.1,518.6 210.6,518.2 211.1,517.8 211.6,517.6 212.1,517.1 212.6,517.1 213.1,516.7 213.6,516.4 214.1,515.9 214.6,515.8 215.0,515.4 215.5,514.8 216.0,514.4 216.5,514.1 217.0,514.1 217.5,513.6 218.0,513.2 218.5,512.9 219.0,512.8 219.5,512.3 220.0,512.2 220.5,511.8 221.0,511.0 221.5,510.9 222.0,510.8 222.5,510.5 223.0,509.9 223.5,509.7 224.0,509.2 224.5,509.0 225.0,508.6 225.5,508.3 226.0,508.1 226.5,507.9 227.0,507.5 227.5,507.1 228.0,506.7 228.5,506.3 229.0,506.0 229.5,505.6 230.0,505.4 230.5,504.8 231.0,504.3 231.5,504.2 232.0,503.9 232.5,503.5 233.0,503.2 233.5,502.9 234.0,502.7 234.5,502.4 235.0,502.1 235.5,501.5 236.0,501.1 236.5,501.1 237.0,500.7 237.5,500.3 238.0,500.0 238.5,499.8 239.0,499.4 239.5,499.3 240.0,498.7 240.5,498.4 241.0,497.7 241.5,497.5 242.0,497.4 242.5,497.0 243.0,496.4 243.5,496.1 244.0,496.0 244.5,495.7 245.0,495.6 245.5,495.0 246.0,494.7 246.5,494.4 247.0,493.7 247.5,494.0 248.0,493.4 248.5,492.9 249.0,492.6 249.5,492.1 250.0,492.2 250.5,491.8 251.0,491.3 251.5,491.0 252.0,490.7 252.5,490.5 253.0,489.8 253.5,489.9 254.0,489.4 254.5,488.8 255.0,488.4 255.5,488.2 256.0,488.2 256.5,487.8 257.0,487.5 257.5,487.2 258.0,486.8 258.5,486.1 259.0,486.0 259.5,485.8 260.0,485.5 260.5,485.2 261.0,484.5 261.5,484.7 262.0,484.0 262.5,484.0 263.0,483.6 263.5,483.3 264.0,482.5 264.5,482.4 265.0,481.5 265.5,481.9 266.0,481.6 266.5,480.9 267.0,480.6 267.5,480.4 268.0,480.4 268.5,479.4 269.0,479.3 269.5,479.0 270.0,478.8 270.5,478.3 271.0,478.2 271.5,477.7 272.0,477.4 272.5,476.8 273.0,476.8 273.5,476.5 274.0,475.8 274.5,475.7 275.0,475.4 275.5,475.1 276.0,474.5 276.5,474.5 277.0,474.0 277.5,473.3 278.0,473.3 278.5,473.2 279.0,473.0 279.5,472.4 280.0,472.3 280.5,472.1 281.0,471.6 281.5,471.3 282.0,470.6 282.5,470.7 283.0,469.8 283.5,469.9 284.0,469.4 284.5,469.0 285.0,468.7 285.5,468.3 286.0,468.3 286.5,468.2 287.0,467.5 287.5,467.5 288.0,466.9 288.5,466.2 289.0,466.2 289.5,465.9 290.0,465.7 290.5,465.2 291.0,464.8 291.5,464.8 292.0,464.1 292.5,464.0 293.0,463.4 293.5,463.2 294.0,462.6 294.5,462.3 295.0,462.1 295.5,461.8 296.0,461.4 296.5,460.8 297.0,460.6 297.5,460.4 298.0,460.1 298.5,459.5 299.0,459.8 299.5,459.0 300.0,459.0 300.5,458.2 301.0,458.3 301.5,457.8 302.0,457.7 302.5,457.1 303.0,456.6 303.5,456.1 304.0,456.4 304.5,455.9 305.0,454.6 305.5,454.9 306.0,454.8 306.5,454.4 307.0,454.8 307.5,453.4 308.0,453.5 308.5,453.5 309.0,452.6 309.5,452.7 310.0,452.4 310.5,451.7 311.0,451.4 311.5,451.3 312.0,450.9 312.5,450.8 313.0,450.5 313.5,449.6 314.0,449.2 314.5,449.1 315.0,448.8 315.5,448.6 316.0,448.2 316.5,448.1 317.0,447.1 317.5,447.3 318.0,446.8 318.5,446.5 319.0,446.6 319.5,445.4 320.0,445.6 320.5,445.4 321.0,444.8 321.5,444.8 322.0,444.2 322.5,444.1 323.0,443.4 323.5,443.2 324.0,443.2 324.5,442.3 325.0,442.2 325.5,442.2 326.0,441.5 326.5,441.1 327.0,440.4 327.5,440.8 328.0,440.0 328.5,439.9 329.0,439.4 329.5,439.3 330.0,438.9 330.5,438.5 331.0,438.6 331.5,438.5 332.0,437.6 332.5,437.4 333.0,436.9 333.5,436.4 334.0,436.3 334.5,435.6 335.0,435.6 335.5,435.2 336.0,434.7 336.5,434.4 337.0,434.3 337.5,433.9 338.0,433.8 338.5,433.4 339.0,432.9 339.5,432.4 340.0,432.4 340.5,431.7 341.0,431.1 341.5,430.7 342.0,431.0 342.5,430.3 343.0,430.1 343.5,429.7 344.0,429.4 344.5,429.2 345.0,428.7 345.5,428.6 346.0,428.4 346.5,427.9 347.0,427.5 347.5,427.0 348.0,426.9 348.5,426.4 349.0,425.9 349.5,426.3 350.0,425.7 350.5,425.2 351.0,425.0 351.5,425.0 352.0,424.0 352.5,424.0 353.0,424.0 353.5,422.8 354.0,423.4 354.5,422.7 355.0,422.5 355.5,422.0 356.0,421.5 356.5,421.6 357.0,421.1 357.5,420.7 358.0,420.7 358.5,419.7 359.0,419.7 359.5,419.5 360.0,419.2 360.5,418.8 361.0,418.3 361.5,418.2 362.0,417.3 362.5,418.2 363.0,417.7 363.5,416.8 364.0,417.0 364.5,416.1 365.0,415.9 365.5,415.2 366.0,414.9 366.5,414.3 367.0,414.1 367.5,413.7 368.0,413.6 368.5,413.1 369.0,412.9 369.5,412.9 370.0,412.8 370.5,412.5 371.0,411.6 371.5,412.2 372.0,411.1 372.5,411.0 373.0,410.2 373.5,410.1 374.0,410.0 374.5,409.4 375.0,409.8 375.5,408.7 376.0,408.3 376.5,408.7 377.0,407.5 377.5,407.5 378.0,407.1 378.5,407.3 379.1,406.3 379.6,406.0 380.1,405.8 380.6,405.8 381.1,404.9 381.6,404.4 382.1,404.4 382.6,403.8 383.1,404.0 383.6,403.4 384.1,403.0 384.6,402.8 385.1,401.6 385.6,402.0 386.1,402.0 386.6,401.2 387.1,401.5 387.6,400.7 388.1,400.3 388.6,400.4 389.1,400.0 389.6,399.8 390.1,399.1 390.6,399.1 391.1,397.9 391.6,398.0 392.1,397.9 392.6,398.0 393.1,396.5 393.6,396.4 394.1,396.4 394.6,396.1 395.1,395.8 395.6,395.7 396.1,394.6 396.6,394.8 397.1,395.1 397.6,394.5 398.1,394.8 398.6,393.3 399.1,393.0 399.6,392.3 400.1,391.9 400.6,392.5 401.1,391.8 401.6,391.2 402.1,391.0 402.6,391.1 403.1,390.3 403.6,390.1 404.1,389.5 404.6,389.6 405.1,389.4 405.6,389.1 406.1,388.8 406.6,388.6 407.1,388.1 407.6,387.5 408.1,387.1 408.6,386.5 409.1,386.3 409.6,386.1 410.1,386.4 410.6,385.5 411.1,384.9 411.6,385.5 412.1,385.1 412.6,384.7 413.1,384.4 413.6,383.8 414.1,383.7 414.6,382.9 415.1,383.1 415.6,382.4 416.1,382.2 416.6,382.1 417.1,381.0 417.6,381.0 418.1,380.5 418.6,380.5 419.1,379.8 419.6,379.5 420.1,379.5 420.6,379.7 421.1,378.4 421.6,378.1 422.1,378.0 422.6,377.7 423.1,377.4 423.6,377.0 424.1,377.1 424.6,376.4 425.1,376.0 425.6,376.0 426.1,375.8 426.6,374.4 427.1,374.5 427.6,374.6 428.2,374.3 428.7,374.8 429.2,374.0 429.7,373.2 430.2,372.3 430.7,373.3 431.2,372.4 431.7,371.1 432.2,371.2 432.7,371.0 433.2,370.4 433.7,370.5 434.2,370.2 434.7,369.6 435.2,369.2 435.7,369.6 436.2,368.3 436.7,369.2 437.2,368.5 437.7,366.7 438.2,367.7 438.7,367.0 439.2,367.3 439.7,366.7 440.2,366.5 440.7,366.1 441.2,365.3 441.7,364.6 442.2,364.6 442.7,364.0 443.2,364.5 443.7,363.4 444.2,363.4 444.7,362.7 445.2,363.1 445.7,362.7 446.2,361.8 446.7,361.7 447.2,361.6 447.8,361.6 448.3,361.0 448.8,360.5 449.3,360.1 449.8,360.3 450.3,359.8 450.8,359.2 451.3,359.5 451.8,358.3 452.3,358.4 452.8,358.1 453.3,358.7 453.8,358.1 454.3,357.5 454.8,357.0 455.3,356.9 455.8,356.0 456.3,355.8 456.8,355.6 457.3,356.0 457.8,354.3 458.3,354.6 458.8,353.9 459.3,354.1 459.8,353.5 460.3,352.9 460.8,352.8 461.3,352.1 461.9,352.3 462.4,351.1 462.9,352.4 463.4,351.5 463.9,350.5 464.4,350.7 464.9,350.5 465.4,350.7 465.9,349.1 466.4,350.1 466.9,348.8 467.4,348.6 467.9,347.9 468.4,347.4 468.9,348.0 469.4,347.7 469.9,347.2 470.4,347.4 470.9,346.0 471.4,346.2 471.9,345.6 472.4,345.9 472.9,345.1 473.4,345.0 473.9,344.5 474.4,344.6 475.0,343.3 475.5,343.7 476.0,344.2 476.5,342.5 477.0,342.6 477.5,342.5 478.0,340.7 478.5,341.5 479.0,341.8 479.5,341.1 480.0,340.4 480.5,340.3 481.0,339.3 481.5,339.1 482.0,339.6 482.5,338.9 483.0,338.3 483.5,338.4 484.0,338.1 484.5,337.2 485.0,337.1 485.5,337.6 486.0,336.9 486.6,336.5 487.1,336.0 487.6,336.0 488.1,334.7 488.6,335.4 489.1,335.2 489.6,334.3 490.1,335.0 490.6,334.2 491.1,333.1 491.6,333.7 492.1,333.1 492.6,331.9 493.1,331.9 493.6,331.7 494.1,331.3 494.6,331.4 495.1,330.6 495.6,330.5 496.1,329.0 496.6,329.6 497.1,329.6 497.7,329.2 498.2,328.8 498.7,329.1 499.2,328.6 499.7,327.1 500.2,328.2 500.7,327.5 501.2,326.4 501.7,325.8 502.2,326.7 502.7,325.2 503.2,325.7 503.7,324.5 504.2,324.7 504.7,324.7 505.2,323.9 505.7,323.7 506.2,324.0 506.7,322.3 507.2,323.1 507.7,322.1 508.2,322.5 508.7,322.9 509.2,322.2 509.7,321.4 510.2,320.7 510.7,319.8 511.2,320.3 511.7,320.2 512.2,320.3 512.7,319.4 513.2,318.9 513.7,319.8 514.2,317.8 514.7,317.5 515.2,316.7 515.7,317.9 516.2,317.1 516.7,316.8 517.2,317.1 517.7,316.6 518.2,316.3 518.7,315.2 519.2,315.0 519.7,314.2 520.2,314.7 520.7,314.9 521.2,313.6 521.7,313.4 522.2,312.9 522.7,312.3 523.2,312.9 523.7,311.8 524.2,312.4 524.7,311.5 525.2,310.9 525.7,311.0 526.2,310.5 526.7,311.0 527.2,310.3 527.7,309.6 528.2,309.9 528.7,309.5 529.3,307.6 529.8,308.5 530.4,308.8 530.9,308.6 531.4,307.2 532.0,309.0 532.5,307.6 533.1,306.8 533.6,307.2 534.2,306.4 534.7,307.0 535.2,306.2 535.7,305.8 536.2,305.5 536.8,305.1 537.3,304.9 537.8,304.0 538.3,304.4 538.8,304.3 539.3,303.8 539.8,303.5 540.3,303.8 540.8,303.7 541.3,303.1 541.8,301.9 542.3,302.1 542.8,301.7 543.3,299.7 543.9,300.2 544.4,300.6 544.9,300.5 545.4,299.2 545.9,300.0 546.4,298.6 546.9,298.6 547.4,297.9 547.9,298.7 548.4,297.5 548.9,298.7 549.4,297.5 550.0,296.5 550.5,296.4 551.0,297.4 551.5,295.8 552.0,295.6 552.5,295.6 553.0,295.6 553.5,295.1 554.0,294.9 554.5,293.8 555.0,293.7 555.5,293.1 556.1,293.0 556.6,293.7 557.1,292.7 557.6,291.3 558.1,292.7 558.6,291.6 559.1,291.9 559.6,291.7 560.1,290.8 560.6,290.1 561.1,289.8 561.6,289.7 562.2,289.1 562.7,290.1 563.2,288.5 563.7,288.4 564.2,288.4 564.7,288.0 565.2,288.1 565.7,286.7 566.2,287.4 566.7,287.5 567.2,286.4 567.7,286.4 568.2,285.8 568.7,284.6 569.2,285.2 569.7,284.7 570.3,283.2 570.8,284.9 571.3,283.6 571.8,282.9 572.3,282.4 572.8,281.6 573.3,282.9 573.8,281.9 574.3,282.0 574.8,281.9 575.3,281.7 575.8,281.8 576.3,280.5 576.9,279.9 577.4,280.6 577.9,279.3 578.4,279.7 578.9,279.7 579.4,280.2 579.9,277.8 580.4,277.7 580.9,278.0 581.4,277.7 581.9,277.9 582.4,276.6 583.0,276.6 583.5,275.9 584.0,275.8 584.5,276.4 585.0,276.2 585.5,274.8 586.0,275.6 586.5,274.2 587.0,273.5 587.6,274.5 588.1,273.0 588.6,273.1 589.1,272.5 589.6,272.9 590.1,272.2 590.6,271.6 591.2,270.5 591.7,270.8 592.2,270.7 592.7,271.4 593.2,270.1 593.7,270.4 594.2,269.8 594.8,269.3 595.3,268.5 595.8,268.5 596.3,268.4 596.8,268.2 597.3,267.1 597.8,268.1 598.4,267.3 598.9,266.2 599.4,266.8 599.9,265.9 600.4,265.5 600.9,264.6 601.4,264.7 602.0,266.1 602.5,264.8 603.0,264.3 603.5,263.6 604.0,263.6 604.5,262.4 605.0,262.5 605.5,263.5 606.1,262.9 606.6,263.4 607.1,260.9 607.6,261.6 608.1,261.3 608.6,261.9 609.1,260.9 609.7,260.1 610.2,260.3 610.7,259.9 611.2,259.8 611.7,257.9 612.2,259.1 612.7,259.3 613.3,258.5 613.8,258.0 614.3,257.6 614.8,257.4 615.3,257.6 615.8,256.7 616.4,256.0 616.9,256.8 617.4,254.5 617.9,254.3 618.4,256.2 619.0,255.0 619.5,253.8 620.0,253.3 620.5,252.7 621.0,254.7 621.6,253.9 622.1,253.2 622.6,252.2 623.1,253.0 623.6,251.7 624.2,251.4 624.7,250.9 625.2,251.9 625.7,250.6 626.3,250.4 626.8,250.4 627.3,249.0 627.8,249.7 628.4,248.3 628.9,249.3 629.4,247.6 629.9,247.3 630.5,248.6 631.0,247.6 631.5,247.3 632.1,247.8 632.6,246.4 633.2,246.2 633.7,246.9 634.2,246.0 634.8,245.2 635.3,245.6 635.8,245.6 636.4,243.9 636.9,245.3 637.5,244.1 638.0,243.3 638.6,243.3 639.1,244.7 639.6,243.4 640.2,243.0 640.7,242.8 641.3,242.0 641.8,241.8 642.4,241.8 642.9,241.4 643.5,240.7 644.0,240.3 644.6,242.0 645.1,239.1 645.6,240.7 646.2,239.6 646.7,240.9 647.3,239.9 647.9,240.2 648.4,238.4 649.0,238.3 649.5,238.6 650.1,238.5 650.6,237.9 651.2,238.6 651.7,238.1 652.3,238.0 652.8,236.7 653.4,237.1 654.0,237.7 654.5,236.4 655.1,236.1 655.6,235.3 656.2,236.4 656.8,235.5 657.3,234.2 657.9,235.6 658.5,235.4 659.0,234.6 659.6,235.1 660.2,234.6 660.7,234.7 661.3,234.7 661.9,233.4 662.4,234.0 663.0,234.3 663.6,233.6 664.1,233.3 664.7,232.8 665.3,232.2 665.9,231.5 666.4,233.3 667.0,232.5 667.6,233.4 668.2,231.9 668.7,231.5 669.3,232.1 669.9,232.1 670.5,232.0 671.0,232.2 671.6,230.7 672.2,229.6 672.8,231.6 673.4,229.5 674.0,230.6 674.5,231.3 675.1,229.9 675.7,229.6 676.3,229.8 676.9,230.1 677.5,228.7 678.1,229.9 678.7,229.2 679.3,229.1 679.9,230.0 680.4,230.6 681.0,230.4 681.6,229.4 682.2,228.8 682.8,230.2 683.4,229.4 684.0,227.8 684.6,230.1 685.2,228.5 685.8,228.5 686.4,228.1 687.0,229.7 687.6,228.4 688.2,229.6 688.8,227.6 689.4,229.2 690.0,228.3 690.6,229.1 691.2,228.5 691.8,229.6 692.4,228.4 693.0,228.2 693.6,228.6 694.2,227.5 694.8,228.5 695.4,228.2 696.0,228.5 696.6,227.5 697.2,229.4 697.8,229.2 698.4,229.3 699.0,228.7 699.6,229.1 700.2,228.8 700.7,229.3 701.3,230.0 701.9,229.9 702.5,229.7 703.1,231.8 703.6,229.3 704.2,230.9 704.8,230.9 705.3,230.7 705.9,231.2 706.5,232.3 707.0,231.6 707.6,230.7 708.2,231.1 708.7,231.2 709.3,232.8 709.8,232.8 710.4,232.1 710.9,232.0 711.4,233.3 712.0,234.3 712.5,235.3 713.0,233.2 713.6,235.6 714.1,234.5 714.6,234.4 715.1,233.0 715.6,235.5 716.1,236.1 716.7,236.0 717.2,236.3 717.7,236.0 718.1,236.8 718.6,238.2 719.1,239.6 719.6,238.1 720.1,239.2 720.6,238.0 721.1,240.4 721.5,239.6 722.0,240.7 722.5,241.2 722.9,239.7 723.4,241.2 723.8,241.9 724.3,241.6 724.7,243.1 725.2,243.2 725.6,243.8 726.0,242.2 726.5,243.9 726.9,244.1 727.3,244.2 727.7,245.6 728.2,246.0 728.6,247.5 729.0,246.4 729.4,247.0 729.8,247.9 730.2,247.1 730.6,249.9 731.0,248.6 731.4,250.5 731.8,250.7 732.2,250.5 732.6,249.7 733.0,252.2 733.3,252.5 733.7,253.1 734.1,251.1 734.4,252.7 734.8,253.3 735.2,252.5 735.5,254.3 735.9,256.6 736.3,255.9 736.6,256.9 737.0,254.9 737.3,258.1 737.7,257.2 738.0,258.3 738.3,258.8 738.7,258.9 739.0,259.5 739.4,260.5 739.7,261.4 740.0,261.4 740.3,262.2 740.7,262.6 741.0,262.4 741.3,263.1 741.6,263.1 741.9,264.2 742.3,263.0 742.6,265.5 743.2,266.0 743.7,264.7 744.2,266.4 744.6,266.1 744.9,266.0 745.2,267.3 745.5,268.1 745.8,267.5 746.1,268.6 746.4,269.8 746.7,270.8 747.0,270.7 747.3,272.2 747.6,272.1 747.9,272.9 748.1,272.3 748.4,272.4 748.7,274.1 749.0,274.5 749.3,275.5 749.5,276.3 749.8,276.1 750.1,275.8 750.3,276.4 750.6,276.9 750.9,278.1 751.1,280.6 751.4,278.2 751.7,278.4 751.9,279.3 752.2,279.8 752.4,280.2 752.7,279.5 753.0,281.9 753.2,281.5 753.5,282.6 753.7,283.3 754.0,284.5 754.2,285.2 754.5,286.3 754.7,285.5 754.9,286.8 755.2,288.0 755.4,288.2 755.7,289.1 755.9,287.5 756.1,289.5 756.4,289.8 756.6,291.4 756.9,291.8 757.1,290.7 757.3,292.2 757.5,292.4 757.8,291.7 758.0,292.0 758.2,293.7 758.5,294.4 758.7,295.2 758.9,296.2 759.1,294.9 759.4,298.0 759.6,297.7 759.8,299.7 760.0,299.7 760.2,299.0 760.4,299.5 760.7,300.1 760.9,301.2 761.1,302.1 761.3,302.5 761.5,303.0 761.7,302.3 761.9,302.6 762.1,304.0 762.4,305.3 762.6,306.2 762.8,305.8 763.0,306.8 763.2,308.6 763.4,306.6 763.6,308.3 763.8,309.1 764.0,310.1 764.2,310.7 764.4,309.8 764.6,311.9 764.8,311.6 765.0,311.7 765.2,311.3 765.4,312.9 765.6,314.0 765.8,314.9 766.0,314.4 766.2,314.8 766.4,316.6 766.5,316.3 766.7,317.5 766.9,319.2 767.1,319.3 767.3,318.4 767.5,318.4 767.7,319.6 767.9,320.9 768.0,321.9 768.2,321.5 768.4,322.2 768.6,324.4 768.8,323.1 769.0,324.8 769.1,324.2 769.3,324.9 769.5,325.3 769.7,325.6 769.9,326.5 770.0,328.5 770.2,329.0 770.4,327.9 770.6,329.0 770.8,331.2 770.9,332.1 771.1,330.3 771.3,329.8 771.5,331.5 771.6,333.0 771.8,333.1 772.0,336.2 772.1,335.3 772.3,334.3 772.5,335.0 772.6,338.0 772.8,335.8 773.0,336.9 773.2,337.2 773.3,338.7 773.5,339.1 773.7,340.6 773.8,340.0 774.0,340.1 774.2,342.2 774.3,341.7 774.5,343.0 774.6,342.3 774.8,342.9 775.0,346.3 775.1,344.5 775.3,344.6 775.5,346.5 775.6,346.8 775.8,347.3 775.9,348.7 776.1,348.5 776.2,347.7 776.4,349.1 776.6,348.8 776.7,349.9 776.9,350.3 777.0,351.7 777.2,351.8 777.3,351.3 777.5,352.4 777.7,353.9 777.8,355.3 778.0,356.1 778.1,355.7 778.3,356.1 778.4,358.6 778.6,357.5 778.7,357.9 778.9,358.5 779.0,359.8 779.2,358.0 779.3,359.8 779.5,362.3 779.6,362.3 779.8,361.6 779.9,362.4 780.1,363.3 780.2,364.1 780.4,364.8 780.5,365.6 780.6,366.6 780.8,365.9 780.9,369.3 781.1,368.1 781.2,367.1 781.4,369.4 781.5,370.3 781.7,368.3 781.8,369.6 781.9,371.2 782.1,372.1 782.2,372.4 782.4,373.1 782.5,373.6 782.7,374.6 782.8,374.1 782.9,375.6 783.1,377.2 783.2,377.4 783.4,376.9 783.5,378.3 783.6,380.1 783.8,377.4 783.9,378.8 784.0,380.2 784.2,380.8 784.3,380.6 784.5,380.4 784.6,382.7 784.7,382.4 784.9,383.9 785.0,383.6 785.1,385.5 785.3,386.6 785.4,385.6 785.5,386.3 785.7,386.2 785.8,388.0 785.9,386.9 786.1,388.5 786.2,387.9 786.3,390.1 786.5,389.1 786.6,391.0 786.7,391.4 786.9,391.3 787.0,394.2 787.1,394.2 787.3,392.3 787.4,395.7 787.5,395.5 787.6,395.2 787.8,395.0 787.9,397.2 788.0,397.3 788.2,398.9 788.3,398.9 788.4,398.3 788.5,399.4 788.7,400.3 788.8,400.5 788.9,401.4 789.0,401.9 789.2,402.9 789.3,404.1 789.4,403.3 789.5,405.4 789.7,404.1 789.8,403.8 789.9,404.9 790.0,404.8 790.2,408.2 790.3,407.7 790.4,409.2 790.5,409.7 790.7,411.1 790.8,411.3 790.9,410.1 791.0,410.9 791.1,411.0 791.3,411.7 791.4,412.5 791.5,414.5 791.6,414.5 791.8,414.3 791.9,414.5 792.0,416.4 792.1,417.1 792.2,417.7 792.4,416.5 792.5,418.0 792.6,419.3 792.7,420.3 792.8,419.9 793.0,422.2 793.1,421.6 793.2,422.5 793.3,423.1 793.4,423.0 793.5,423.4 793.7,421.8 793.8,424.8 793.9,424.9 794.0,426.8 794.1,428.1 794.2,426.3 794.4,426.2 794.5,429.3 794.6,429.1 794.7,428.7 794.8,430.1 794.9,432.8 795.0,430.5 795.2,432.1 795.3,432.0 795.4,434.0 795.5,433.0 795.6,433.5 795.7,435.5 795.8,435.1 796.0,436.6 796.1,437.1 796.2,438.0 796.3,438.2 796.4,439.0 796.5,438.1 796.6,439.8 796.7,441.2 796.9,439.7 797.0,441.0 797.1,441.2 797.2,442.6 797.3,442.6 797.4,443.8 797.5,445.2 797.6,444.9 797.7,445.4 797.8,446.0 798.0,446.0 798.1,448.8 798.2,447.6 798.3,449.2 798.4,449.3 798.5,449.3 798.6,450.2 798.7,451.4 798.8,450.8 798.9,452.1 799.0,451.8 799.1,452.1 799.3,454.1 799.4,455.3 799.5,454.9 799.6,454.9 799.7,455.9 799.8,457.7 799.9,458.7 800.0,458.7 800.1,459.3 800.2,458.6 800.3,459.6 800.4,459.5 800.5,460.9 800.6,460.0 800.7,462.0 800.8,462.2 801.0,463.6 801.1,463.4 801.2,463.5 801.3,464.3 801.4,464.5 801.5,466.7 801.6,466.4 801.7,465.9 801.8,467.7 801.9,468.7 802.0,469.3 802.1,470.1 802.2,470.2 802.3,469.7 802.4,471.1 802.5,472.1 802.6,473.3 802.7,474.2 802.8,471.8 802.9,474.8 803.0,474.9 803.1,476.0 803.2,476.1 803.3,477.2 803.4,477.3 803.5,476.8 803.6,479.2 803.7,478.7 803.8,479.8 803.9,479.8 804.0,481.5 804.1,481.2 804.2,483.0 804.3,484.3 804.4,484.4 804.5,484.7 804.6,485.5 804.7,485.4 804.8,484.8 804.9,487.3 805.0,486.5 805.1,487.4 805.2,488.7 805.3,489.5 805.4,488.9 805.5,489.5 805.6,490.8 805.7,491.2 805.8,491.7 805.9,493.3 806.0,492.7 806.1,493.2 806.2,492.5 806.3,495.7 806.4,495.9 806.5,495.7 806.6,496.9 806.7,497.3 806.8,497.6 806.9,498.4 807.0,498.8 807.1,499.0 807.2,501.3 807.3,500.1 807.3,503.0 807.4,500.3 807.5,501.5 807.6,503.4 807.7,502.6 807.8,504.2 807.9,504.3 808.0,504.6 808.1,505.6 808.2,506.4 808.3,506.5 808.4,507.8 808.5,508.5 808.6,509.6 808.7,510.9 808.8,508.7 808.9,509.9 809.0,512.4 809.0,511.4 809.1,512.2 809.2,514.8 809.3,514.3 809.4,514.2 809.5,513.3 809.6,514.4 809.7,514.9 809.8,516.3 809.9,516.3 810.0,518.7 810.1,517.8 810.2,518.3 810.3,520.5 810.3,519.9 810.4,519.4 810.5,519.6 810.6,520.7 810.7,523.0 810.8,523.1 810.9,524.1 811.0,523.2 811.1,525.5 811.2,526.3 811.3,527.4 811.3,526.4 811.4,526.8 811.5,528.3 811.6,529.0 811.7,529.1 811.8,528.4 811.9,531.3 812.0,530.8 812.1,531.1 812.2,531.6 812.2,531.5 812.3,532.4 812.4,533.5 812.5,533.1 812.6,533.9 812.7,535.2 812.8,535.9 812.9,537.7 813.0,537.1 813.0,538.5 813.1,539.4 813.2,539.3 813.3,541.1 813.4,541.0 813.5,541.2 813.6,541.1 813.7,542.3 813.8,542.3 813.8,541.9 813.9,543.1 814.0,545.4 814.1,546.5 814.2,546.4 814.3,546.9 814.4,548.4 814.5,548.8 814.5,549.4 814.6,549.1 814.7,548.0 814.8,548.3 814.9,551.2 815.0,551.4 815.1,552.7 815.1,553.5 815.2,552.8 815.3,553.3 815.4,554.5 815.5,554.0 815.6,555.4 815.7,554.8 815.7,556.8 815.8,556.2 815.9,557.7 816.0,558.0 816.1,558.2 816.2,560.5 816.3,560.6 816.3,560.6 816.4,561.4 816.5,561.5 816.6,563.0 816.7,564.0 816.8,563.6 816.9,563.8 816.9,565.4 817.0,564.3 817.1,565.3 817.2,565.7 817.3,566.4 817.4,568.4 817.4,566.4 817.5,569.4 817.6,569.1 817.7,569.4 817.8,570.3 817.9,571.0 817.9,572.4 818.0,572.7 818.1,572.9 818.2,572.4 818.3,574.7 818.4,574.1 818.4,574.9 818.5,575.8 818.6,576.9 818.7,577.2 818.8,579.1 818.9,578.1 818.9,578.5 819.0,579.8 819.1,579.6 819.2,580.3 819.3,581.8 819.3,581.1 819.4,582.8 819.5,580.9 819.6,584.4 819.7,584.8 819.8,585.3 819.8,585.3" fill="none" stroke="#c82229" stroke-width="1.4" stroke-linejoin="round"/>
<rect x="37.5" y="210.5" width="32.5" height="12" fill="#e0161a"/>
<rect x="73" y="210.5" width="33" height="12" fill="#4a87c9"/>
<text x="54" y="220" class="lg" text-anchor="middle">Power</text>
<text x="83.4" y="220" class="lg" textLength="12.6" lengthAdjust="spacingAndGlyphs">I (A)</text>
</svg>
<div class="logo" aria-label="TÜV NORD"><span style="left:34.45px;top:42.8px;font-size:29.2px;line-height:29.2px;transform:scaleX(0.986);-webkit-text-stroke:1.2px #1a2cb8;">T</span><span style="left:52.91px;top:42.8px;font-size:29.2px;line-height:29.2px;transform:scaleX(1.029);-webkit-text-stroke:1.2px #1a2cb8;clip-path:inset(3.1px -2px -2px -2px);">Ü</span><span style="left:75.73px;top:42.8px;font-size:29.2px;line-height:29.2px;transform:scaleX(1.059);-webkit-text-stroke:1.2px #1a2cb8;">V</span><span style="left:96.2px;top:40.9px;font-size:29.7px;line-height:29.7px;transform:scaleX(1.136);">N</span><span style="left:119.6px;top:40.9px;font-size:29.7px;line-height:29.7px;transform:scaleX(1.121);">O</span><span style="left:146.4px;top:40.9px;font-size:29.7px;line-height:29.7px;transform:scaleX(0.822);">R</span><span style="left:165.9px;top:40.9px;font-size:29.7px;line-height:29.7px;transform:scaleX(0.969);">D</span><i style="left:61.6px;top:46.3px;width:3.9px;height:4.4px"></i><i style="left:54.4px;top:46.3px;width:5.4px;height:1.4px"></i><i style="left:67.8px;top:46.3px;width:5.5px;height:1.4px"></i></div>
</body></html>
